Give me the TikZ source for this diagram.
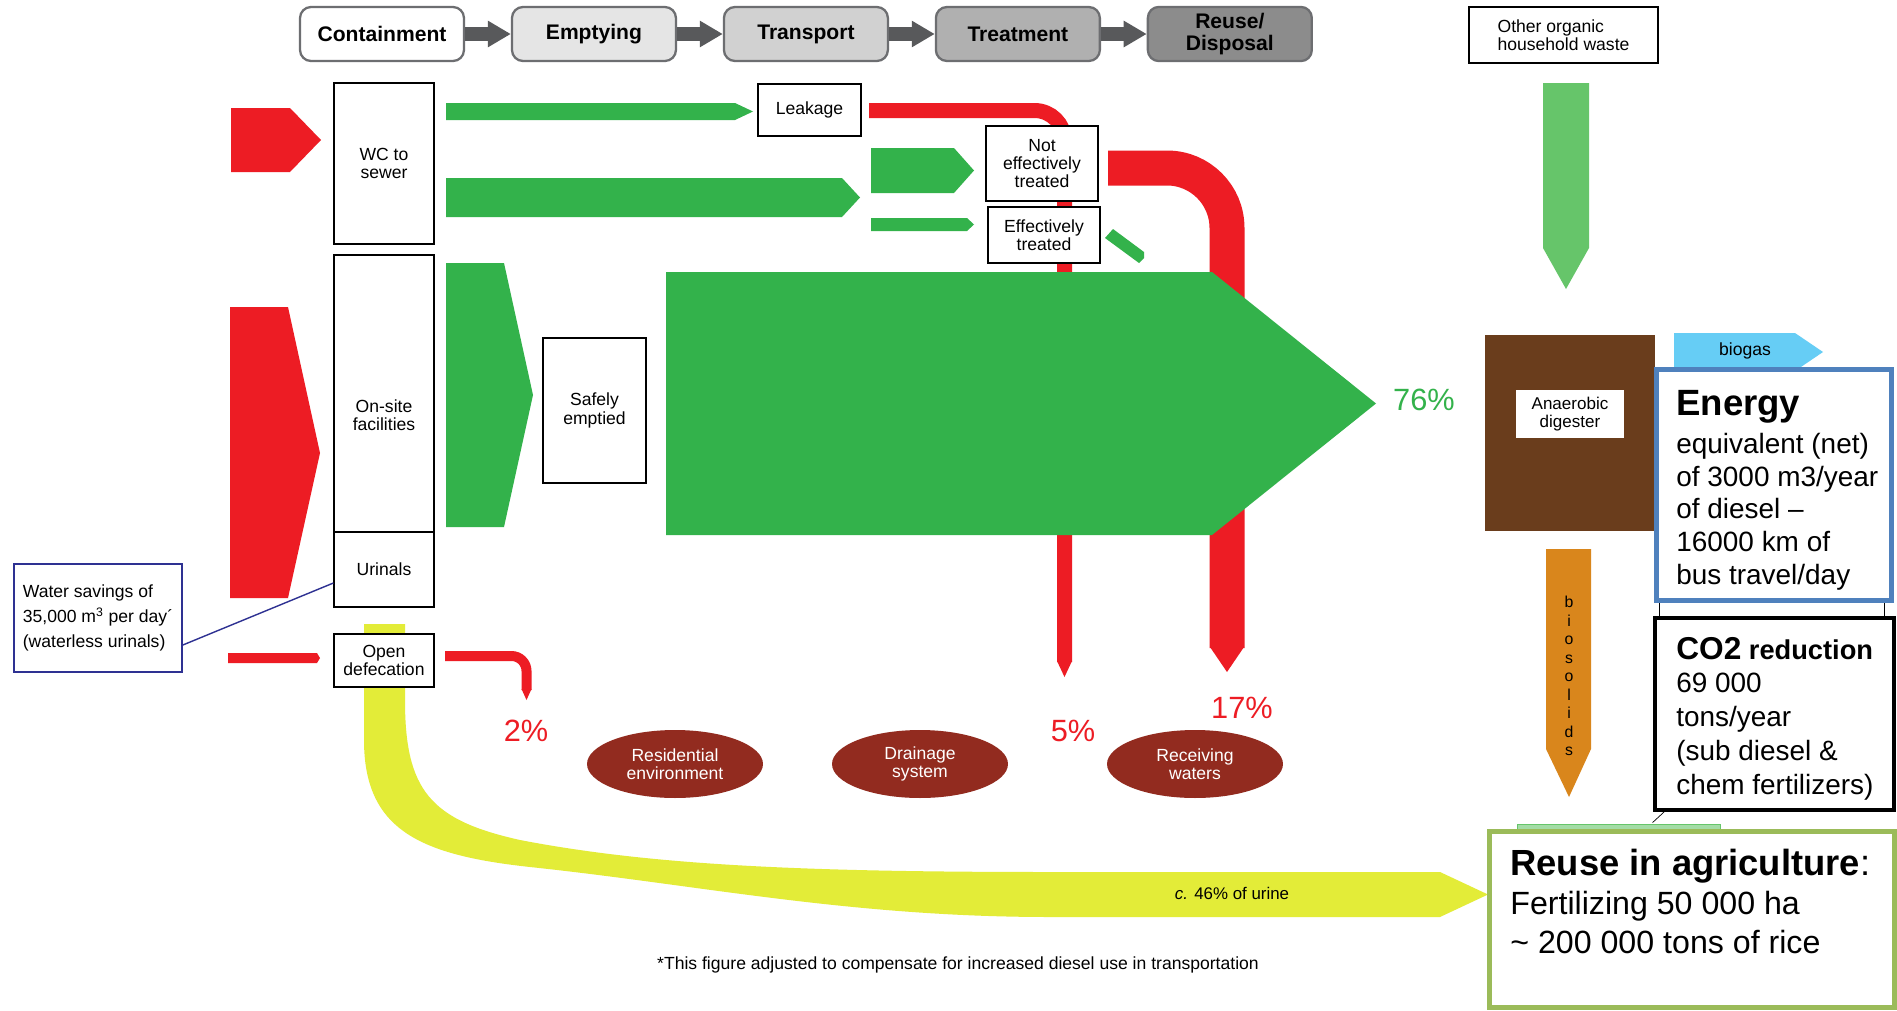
\documentclass[tikz,border=0pt]{standalone}
\usepackage{fontspec}
\setmainfont{Liberation Sans}
\usetikzlibrary{positioning,shapes.geometric,arrows.meta}
\pgfdeclarelayer{flows}
\pgfsetlayers{flows,main}

\definecolor{sred}{HTML}{ED1C24}
\definecolor{sgreen}{HTML}{33B24B}
\definecolor{lgreen}{HTML}{66C56A}
\definecolor{syellow}{HTML}{E3EC38}
\definecolor{sbrown}{HTML}{6A3D1C}
\definecolor{sorange}{HTML}{D9861C}
\definecolor{sblue}{HTML}{66CDF5}
\definecolor{eblue}{HTML}{4F81BD}
\definecolor{agreen}{HTML}{9BBB59}
\definecolor{ellred}{HTML}{922B1F}
\definecolor{wnavy}{HTML}{2E3192}
\definecolor{hdrline}{HTML}{6D6E71}
\definecolor{hdrarrow}{HTML}{58595B}

\newcommand{\fs}[2]{\fontsize{#1}{#2}\selectfont}

\begin{document}
\begin{tikzpicture}[
    x=0.02cm, y=-0.02cm,
    node distance=4.24cm,
    stage/.style={rectangle, rounded corners=0.22cm, draw=hdrline, line width=1.3pt, minimum width=3.28cm, minimum height=1.08cm, align=center, font=\bfseries\fs{12}{13}},
    stagearrow/.style={-{Triangle[length=0.46cm, width=0.5cm]}, hdrarrow, line width=0.28cm},
    box/.style={rectangle, draw, line width=0.7pt, fill=white, align=center, inner sep=0pt, font=\fs{10}{10.4}},
    sink/.style={ellipse, fill=ellred, text=white, minimum width=3.52cm, minimum height=1.36cm, inner sep=0pt, align=center, font=\fs{10}{10.4}},
    pct/.style={text=sred, font=\fs{17.5}{18}},
    info/.style={anchor=north west, inner sep=0pt, align=left}
]
    \useasboundingbox (0,0) rectangle (1897,1011);

    % service chain
    \node[stage, fill=white] (contain) at (382,34) {Containment};
    \node[stage, fill=black!10, right of=contain] (empty) {Emptying};
    \node[stage, fill=black!18, right of=empty] (transport) {Transport};
    \node[stage, fill=black!31, right of=transport] (treat) {Treatment};
    \node[stage, fill=black!45, right of=treat] (reusedisp) {Reuse/\\Disposal};

    \draw[stagearrow] (contain) -- (empty);
    \draw[stagearrow] (empty) -- (transport);
    \draw[stagearrow] (transport) -- (treat);
    \draw[stagearrow] (treat) -- (reusedisp);

    % containment boxes
    \node[box, minimum width=2cm, minimum height=3.22cm] (wc) at (384,163.5) {WC to\\sewer};
    \node[box, minimum width=2cm, minimum height=5.54cm] (onsite) at (384,393.5) {};
    \node[align=center, font=\fs{10}{10.4}] (onsitetxt) at (384,415) {On-site\\facilities};
    \node[box, minimum width=2cm, minimum height=1.5cm] (urinal) at (384,569.5) {Urinals};
    \node[box, minimum width=2cm, minimum height=1.06cm] (opendef) at (384,660.5) {Open\\defecation};
    \node[box, draw=wnavy, line width=1pt, minimum width=3.36cm, minimum height=2.16cm, align=left, font=\fs{10}{14}] (water) at (98,618) {Water savings of\\35,000 m\textsuperscript{3} per day´\\(waterless urinals)};
    \draw[wnavy, line width=0.8pt] ([yshift=-0.54cm]water.east) -- ([yshift=-0.27cm]urinal.west);

    % emptying, transport, treatment
    \node[box, minimum width=2.06cm, minimum height=2.9cm] (safe) at (594.5,410.5) {Safely\\emptied};
    \node[box, minimum width=2.06cm, minimum height=1.04cm] (leak) at (809.5,110) {Leakage};
    \node[box, minimum width=2.24cm, minimum height=1.5cm] (noteff) at (1042,163.5) {Not\\effectively\\treated};
    \node[box, minimum width=2.24cm, minimum height=1.12cm] (eff) at (1044,235) {Effectively\\treated};

    % where it ends up
    \node[sink] (resid) at (675,764) {Residential\\environment};
    \node[sink] (drain) at (920,764) {Drainage\\system};
    \node[sink] (recv) at (1195,764) {Receiving\\waters};
    \node[pct] (p2) at (526,731) {2\%};
    \node[pct] (p5) at (1073,731) {5\%};
    \node[pct] (p17) at (1242,708) {17\%};
    \node[pct, text=sgreen] (p76) at (1424,400) {76\%};

    % reuse side
    \node[box, align=left, minimum width=3.78cm, minimum height=1.12cm] (other) at (1563.5,35) {Other organic\\household waste};
    \node[rectangle, fill=sbrown, minimum width=3.4cm, minimum height=3.92cm] (digest) at (1570,433) {};
    \node[rectangle, fill=white, minimum width=2.16cm, minimum height=0.96cm, inner sep=0pt, align=center, font=\fs{9.7}{10}] (digestlbl) at (1570,414) {Anaerobic\\digester};
    \node[font=\fs{10}{11}] (biogas) at (1745,351) {biogas};
    \node[align=center, font=\fs{9}{10.5}] (biosol) at (1569,676) {b\\i\\o\\s\\o\\l\\i\\d\\s};

    \node[rectangle, draw=eblue, line width=2.8pt, fill=white, minimum width=4.7cm, minimum height=4.62cm] (energy) at (1774,485) {};
    \node[anchor=base west, inner sep=0pt, font=\bfseries\fs{20.8}{22}] (energyhd) at (1676,415) {Energy};
    \node[info, font=\fs{15.9}{18.6}] (energytxt) at (1676,433) {equivalent (net)\\of 3000 m3/year\\of diesel –\\16000 km of\\bus travel/day};

    \node[rectangle, draw, line width=2.3pt, fill=white, minimum width=4.78cm, minimum height=3.84cm] (co2) at (1774.5,714) {};
    \node[anchor=base west, inner sep=0pt, font=\bfseries\fs{15.5}{17}] (co2hd) at (1676,659) {{\fs{18}{19}CO2} reduction};
    \node[info, font=\fs{15.9}{19.3}] (co2txt) at (1676,673) {69 000\\tons/year\\(sub diesel \&\\chem fertilizers)};

    \node[rectangle, draw=agreen, line width=2.8pt, fill=white, minimum width=8.1cm, minimum height=3.52cm] (reuse) at (1692,919.5) {};
    \node[anchor=base west, inner sep=0pt, font=\fs{20.7}{22}] (reusehd) at (1510,875) {\textbf{Reuse in agriculture}:};
    \node[info, font=\fs{18.3}{22.2}] (reusetxt) at (1510,891) {Fertilizing 50 000 ha\\\textasciitilde{} 200 000 tons of rice};
    \draw[thin] ([xshift=0.22cm]co2.south west) -- ([xshift=3.31cm,yshift=0.13cm]reuse.north west);

    \node[font=\fs{9.6}{10}] (urine) at (1232,893) {\textit{c.} 46\% of urine};
    \node[font=\fs{10}{11}] (note) at (958,965) {*This figure adjusted to compensate for increased diesel use in transportation};

    % flows
    \begin{pgfonlayer}{flows}
    \fill[white] (0,0) rectangle (1897,1011);
    % inflows
    \fill[sred] (231,108) -- (290,108) -- (321,140) -- (290,172) -- (231,172) -- cycle;
    \fill[sred] (230,307) -- (288,307) -- (320,453) -- (288,598) -- (230,598) -- cycle;
    \fill[sred] (228,653) -- (317,653) -- (320,658) -- (317,663) -- (228,663) -- cycle;
    % leaks
    \draw[sred, line width=0.3cm, rounded corners=0.6cm] (869,110.5) -- (1064.5,110.5) -- (1064.5,662);
    \fill[sred] (1057,661) -- (1072,661) -- (1064.5,677) -- cycle;
    \draw[sred, line width=0.7cm, rounded corners=1.2cm] (1108,168) -- (1227,168) -- (1227,648);
    \fill[sred] (1210,647) -- (1244,647) -- (1227,672) -- cycle;
    \draw[sred, line width=0.2cm, rounded corners=0.3cm] (445,656) -- (526.5,656) -- (526.5,690);
    \fill[sred] (521.5,689) -- (531.5,689) -- (526.5,700) -- cycle;
    % safe flows
    \fill[sgreen] (446,103) -- (735,103) -- (753,111.5) -- (735,120) -- (446,120) -- cycle;
    \fill[sgreen] (446,178) -- (842,178) -- (860,197.5) -- (842,217) -- (446,217) -- cycle;
    \fill[sgreen] (446,263) -- (504,263) -- (533,395) -- (504,527) -- (446,527) -- cycle;
    \fill[sgreen] (871,148) -- (954,148) -- (974,170.5) -- (954,193) -- (871,193) -- cycle;
    \fill[sgreen] (871,218) -- (967,218) -- (974,224.5) -- (967,231) -- (871,231) -- cycle;
    \fill[sgreen] (1105,238) -- (1113,229) -- (1144,252) -- (1144,258) -- (1139,263) -- cycle;
    \fill[sgreen] (666,272) -- (1212,272) -- (1376,403.5) -- (1212,535) -- (666,535) -- cycle;
    % urine
    \fill[syellow] (364,624) -- (364,740) .. controls (364,830) and (420,855) .. (530,867)
        .. controls (700,885) and (850,917) .. (1050,917) -- (1440,917) -- (1488,894.5)
        -- (1440,872) -- (1050,872) .. controls (800,872) and (650,865) .. (520,840)
        .. controls (430,820) and (405,790) .. (405,700) -- (405,624) -- cycle;
    % reuse side
    \fill[lgreen] (1543,83) -- (1589,83) -- (1589,248) -- (1566,289) -- (1543,248) -- cycle;
    \fill[sorange] (1546,549) -- (1591,549) -- (1591,749) -- (1569,797) -- (1546,749) -- cycle;
    \fill[sblue] (1674,333) -- (1795,333) -- (1823,352) -- (1795,371) -- (1674,371) -- cycle;
    \draw[thin, fill=white] (1659,590) rectangle (1884,625);
    \filldraw[fill=lgreen!60, draw=lgreen] (1517,824) rectangle (1720,845);
    \end{pgfonlayer}
\end{tikzpicture}
\end{document}
